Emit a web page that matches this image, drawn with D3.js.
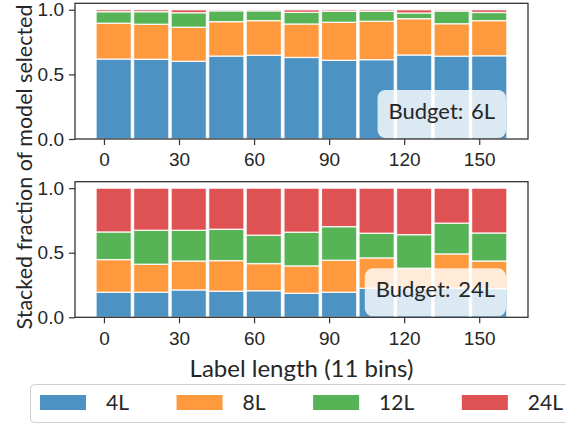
<!DOCTYPE html>
<html>
<head>
<meta charset="utf-8">
<script src="https://cdn.jsdelivr.net/npm/d3@7"></script>
<style>
  html, body { margin: 0; padding: 0; background: #fff; }
  svg { display: block; font-family: Lato, "DejaVu Sans", sans-serif; }
</style>
</head>
<body>
<svg id="chart" width="566" height="424"></svg>
<script>
// Label-length bins (bin centres) and the four model sizes
const binCenters = [3.9, 18.9, 33.9, 48.9, 63.9, 79.0, 94.0, 109.0, 124.0, 139.0, 154.0];
const binWidth = 15;
const models = ["4L", "8L", "12L", "24L"];
const xTicks = [0, 30, 60, 90, 120, 150];
const yTicks = [0.0, 0.5, 1.0];

// Fraction of samples routed to each model, budget 6L
const frac6L_4L  = [0.619, 0.617, 0.601, 0.642, 0.648, 0.631, 0.609, 0.614, 0.650, 0.641, 0.644];
const frac6L_8L  = [0.277, 0.271, 0.264, 0.266, 0.268, 0.259, 0.294, 0.297, 0.281, 0.251, 0.272];
const frac6L_12L = [0.089, 0.097, 0.112, 0.084, 0.076, 0.090, 0.085, 0.077, 0.044, 0.098, 0.063];
const frac6L_24L = [0.015, 0.015, 0.023, 0.008, 0.008, 0.020, 0.012, 0.012, 0.025, 0.010, 0.021];

// Fraction of samples routed to each model, budget 24L
const frac24L_4L  = [0.194, 0.194, 0.212, 0.202, 0.206, 0.186, 0.194, 0.225, 0.222, 0.225, 0.222];
const frac24L_8L  = [0.253, 0.217, 0.224, 0.237, 0.210, 0.212, 0.248, 0.235, 0.158, 0.266, 0.214];
const frac24L_12L = [0.214, 0.263, 0.238, 0.243, 0.220, 0.261, 0.260, 0.191, 0.260, 0.238, 0.217];
const frac24L_24L = [0.339, 0.326, 0.326, 0.318, 0.364, 0.341, 0.298, 0.349, 0.360, 0.271, 0.347];

const panels = [
  { title: "Budget: 6L",  series: [frac6L_4L, frac6L_8L, frac6L_12L, frac6L_24L],      top: 3.3,   bottom: 139 },
  { title: "Budget: 24L", series: [frac24L_4L, frac24L_8L, frac24L_12L, frac24L_24L],  top: 181.7, bottom: 317.3 }
];

const colors = ["#1f77b4", "#ff7f0e", "#2ca02c", "#d62728"];
const textColor = "#262626";
const spineColor = "#333333";
const left = 75, right = 528;

const svg = d3.select("#chart");

const x = d3.scaleLinear().domain([-11.57, 169.5]).range([left, right]);

panels.forEach(p => {
  const y = d3.scaleLinear().domain([0, 1.05]).range([p.bottom, p.top]);
  const g = svg.append("g");

  // stack the four model fractions per bin
  const rows = binCenters.map((c, i) => {
    const r = { center: c };
    models.forEach((m, k) => { r[m] = p.series[k][i]; });
    return r;
  });
  const stacked = d3.stack().keys(models)(rows);

  const barW = (x(binWidth) - x(0)) * 0.94;
  g.selectAll("g.layer")
    .data(stacked)
    .join("g")
    .attr("class", "layer")
    .attr("fill", (d, k) => colors[k])
    .attr("fill-opacity", 0.8)
    .selectAll("rect")
    .data(d => d)
    .join("rect")
    .attr("x", d => x(d.data.center) - barW / 2)
    .attr("width", barW)
    .attr("y", d => y(d[1]))
    .attr("height", d => y(d[0]) - y(d[1]))
    .attr("stroke", "#ffffff")
    .attr("stroke-opacity", 0.85)
    .attr("stroke-width", 1.3);

  // budget annotation box in the lower right corner
  const label = g.append("text")
    .attr("x", right - 33)
    .attr("y", p.bottom - 20)
    .attr("text-anchor", "end")
    .attr("fill", textColor)
    .style("font-size", "22px")
    .style("word-spacing", "2px")
    .text(p.title);
  const bb = label.node().getBBox();
  g.insert("rect", "text")
    .attr("x", bb.x - 11)
    .attr("y", p.bottom - 49)
    .attr("width", bb.width + 22)
    .attr("height", 48)
    .attr("rx", 8)
    .attr("fill", "#ffffff")
    .attr("fill-opacity", 0.8);

  // axes
  const xAxis = g.append("g")
    .attr("transform", `translate(0,${p.bottom})`)
    .call(d3.axisBottom(x).tickValues(xTicks).tickFormat(d3.format("d")).tickSize(6).tickPadding(8));
  const yAxis = g.append("g")
    .attr("transform", `translate(${left},0)`)
    .call(d3.axisLeft(y).tickValues(yTicks).tickFormat(d3.format(".1f")).tickSize(6).tickPadding(5));
  [xAxis, yAxis].forEach(a => {
    a.select(".domain").remove();
    a.selectAll(".tick line").attr("stroke", spineColor).attr("stroke-width", 1.2);
    a.selectAll(".tick text").attr("fill", textColor).style("font-size", "19px").attr("font-family", null);
  });

  // frame
  g.append("rect")
    .attr("x", left).attr("y", p.top)
    .attr("width", right - left).attr("height", p.bottom - p.top)
    .attr("fill", "none")
    .attr("stroke", spineColor)
    .attr("stroke-width", 1.3);
});

// shared axis titles
svg.append("text")
  .attr("transform", "translate(32,167) rotate(-90)")
  .attr("text-anchor", "middle")
  .attr("fill", textColor)
  .style("font-size", "21.5px")
  .text("Stacked fraction of model selected");

svg.append("text")
  .attr("x", (left + right) / 2)
  .attr("y", 377)
  .attr("text-anchor", "middle")
  .attr("fill", textColor)
  .style("font-size", "24px")
  .text("Label length (11 bins)");

// legend: handle, label, then an even column gap so the row spans the frame
const legend = svg.append("g");
legend.append("rect")
  .attr("x", 30.5).attr("y", 384.5)
  .attr("width", 560).attr("height", 38)
  .attr("rx", 4)
  .attr("fill", "#ffffff")
  .attr("stroke", "#d0d0d0")
  .attr("stroke-width", 1);
const item = legend.selectAll("g.item")
  .data(models)
  .join("g")
  .attr("class", "item");
item.append("rect")
  .attr("width", 46).attr("height", 15)
  .attr("fill", (d, k) => colors[k])
  .attr("fill-opacity", 0.8);
item.append("text")
  .attr("x", 66)
  .attr("y", 15)
  .attr("fill", textColor)
  .style("font-size", "21px")
  .text(d => d);
const widths = [];
item.each(function () { widths.push(d3.select(this).select("text").node().getComputedTextLength()); });
const rowStart = 40, rowEnd = 563;
const gap = (rowEnd - rowStart - models.length * 66 - d3.sum(widths)) / (models.length - 1);
let cursor = rowStart;
item.each(function (d, i) {
  d3.select(this).attr("transform", `translate(${cursor},395)`);
  cursor += 66 + widths[i] + gap;
});
</script>
</body>
</html>
